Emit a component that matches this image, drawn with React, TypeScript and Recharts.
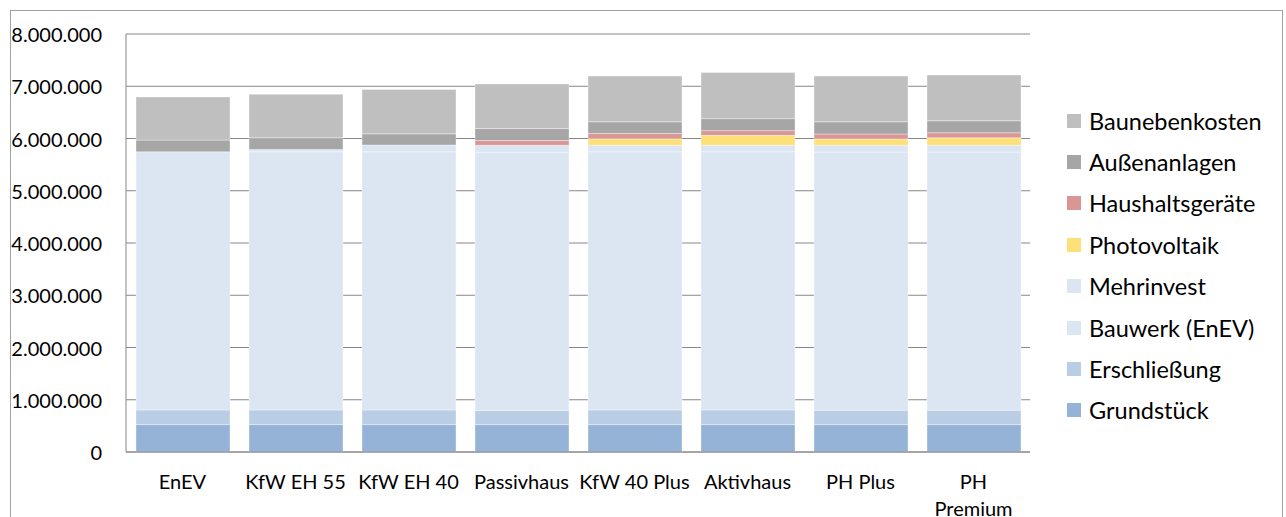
import React from 'react';
import { BarChart, Bar, XAxis, YAxis, CartesianGrid, Legend } from 'recharts';

const categories = ['EnEV', 'KfW EH 55', 'KfW EH 40', 'Passivhaus', 'KfW 40 Plus', 'Aktivhaus', 'PH Plus', 'PH Premium'];
const xTickLines: string[][] = [['EnEV'], ['KfW EH 55'], ['KfW EH 40'], ['Passivhaus'], ['KfW 40 Plus'], ['Aktivhaus'], ['PH Plus'], ['PH', 'Premium']];

const grundstueck = [525000, 525000, 525000, 525000, 525000, 525000, 525000, 525000];
const erschliessung = [280000, 280000, 280000, 270000, 280000, 280000, 275000, 275000];
const bauwerk = [4940000, 4940000, 4940000, 4940000, 4940000, 4940000, 4940000, 4940000];
const mehrinvest = [0, 45000, 130000, 135000, 125000, 125000, 130000, 130000];
const photovoltaik = [0, 0, 0, 0, 125000, 190000, 120000, 145000];
const haushaltsgeraete = [0, 0, 0, 90000, 100000, 90000, 95000, 95000];
const aussenanlagen = [225000, 225000, 215000, 230000, 225000, 230000, 235000, 230000];
const baunebenkosten = [825000, 830000, 850000, 855000, 875000, 885000, 875000, 875000];

const yTicks = [0, 1000000, 2000000, 3000000, 4000000, 5000000, 6000000, 7000000, 8000000];

const series = [
  { key: 'grundstueck', name: 'Grundstück', color: '#95B3D7', values: grundstueck },
  { key: 'erschliessung', name: 'Erschließung', color: '#B9CDE5', values: erschliessung },
  { key: 'bauwerk', name: 'Bauwerk (EnEV)', color: '#DCE6F2', values: bauwerk },
  { key: 'mehrinvest', name: 'Mehrinvest', color: '#DCE6F2', values: mehrinvest },
  { key: 'photovoltaik', name: 'Photovoltaik', color: '#FDE07A', values: photovoltaik },
  { key: 'haushaltsgeraete', name: 'Haushaltsgeräte', color: '#D99694', values: haushaltsgeraete },
  { key: 'aussenanlagen', name: 'Außenanlagen', color: '#A6A6A6', values: aussenanlagen },
  { key: 'baunebenkosten', name: 'Baunebenkosten', color: '#BFBFBF', values: baunebenkosten },
];

const data = categories.map((c, i) => {
  const row: Record<string, any> = { name: c, idx: i };
  series.forEach((s) => { row[s.key] = s.values[i]; });
  return row;
});

const FONT = 'Lato, "Open Sans", sans-serif';
const fmt = (v: number) => String(v).replace(/\B(?=(\d{3})+(?!\d))/g, '.');

const XTick = (props: any) => {
  const { x, y, payload } = props;
  const lines = xTickLines[payload.index] || [String(payload.value)];
  return (
    <text x={x} y={y} textAnchor="middle" fill="#000" fontSize={20} fontFamily={FONT}>
      {lines.map((l, i) => (
        <tspan key={i} x={x} dy={i === 0 ? 29 : 27}>{l}</tspan>
      ))}
    </text>
  );
};

const YTick = (props: any) => {
  const { x, y, payload } = props;
  return (
    <text x={x - 16} y={y} textAnchor="end" dominantBaseline="central" fill="#000" fontSize={20} fontFamily={FONT}>
      {fmt(payload.value)}
    </text>
  );
};

const LegendContent = () => {
  const items = [...series].reverse();
  return (
    <div style={{ fontFamily: FONT, fontSize: 23.5, color: '#000', whiteSpace: 'nowrap' }}>
      {items.map((s) => (
        <div key={s.key} style={{ display: 'flex', alignItems: 'center', height: 41.4 }}>
          <span style={{ display: 'inline-block', width: 14, height: 14, background: s.color, marginRight: 8 }} />
          <span>{s.name}</span>
        </div>
      ))}
    </div>
  );
};

export default function App() {
  return (
    <div style={{ position: 'absolute', left: 0, top: 0, width: 1286, height: 517, overflow: 'hidden', background: '#fff' }}>
      <div style={{ position: 'absolute', left: 10, top: 10, width: 1271, height: 530, border: '1px solid #A0A0A0' }} />
      <div style={{ position: 'absolute', left: 0, top: 0 }}>
        <BarChart
          width={1286}
          height={517}
          data={data}
          margin={{ top: 34, right: 256, bottom: 5, left: 0 }}
          barSize={94}
        >
          <CartesianGrid vertical={false} stroke="#868686" strokeWidth={1} />
          <XAxis
            dataKey="name"
            height={60}
            axisLine={{ stroke: '#868686' }}
            tickLine={false}
            interval={0}
            tick={<XTick />}
          />
          <YAxis
            type="number"
            domain={[0, 8000000]}
            ticks={yTicks}
            width={126}
            axisLine={{ stroke: '#868686' }}
            tickLine={false}
            tick={<YTick />}
          />
          <Legend
            layout="vertical"
            align="center"
            verticalAlign="middle"
            wrapperStyle={{ left: 1067, top: 100, width: 215 }}
            content={<LegendContent />}
          />
          {series.map((s) => (
            <Bar
              key={s.key}
              dataKey={s.key}
              name={s.name}
              stackId="a"
              fill={s.color}
              stroke="#ffffff"
              strokeOpacity={0.35}
              strokeWidth={1}
              isAnimationActive={false}
            />
          ))}
        </BarChart>
      </div>
    </div>
  );
}
